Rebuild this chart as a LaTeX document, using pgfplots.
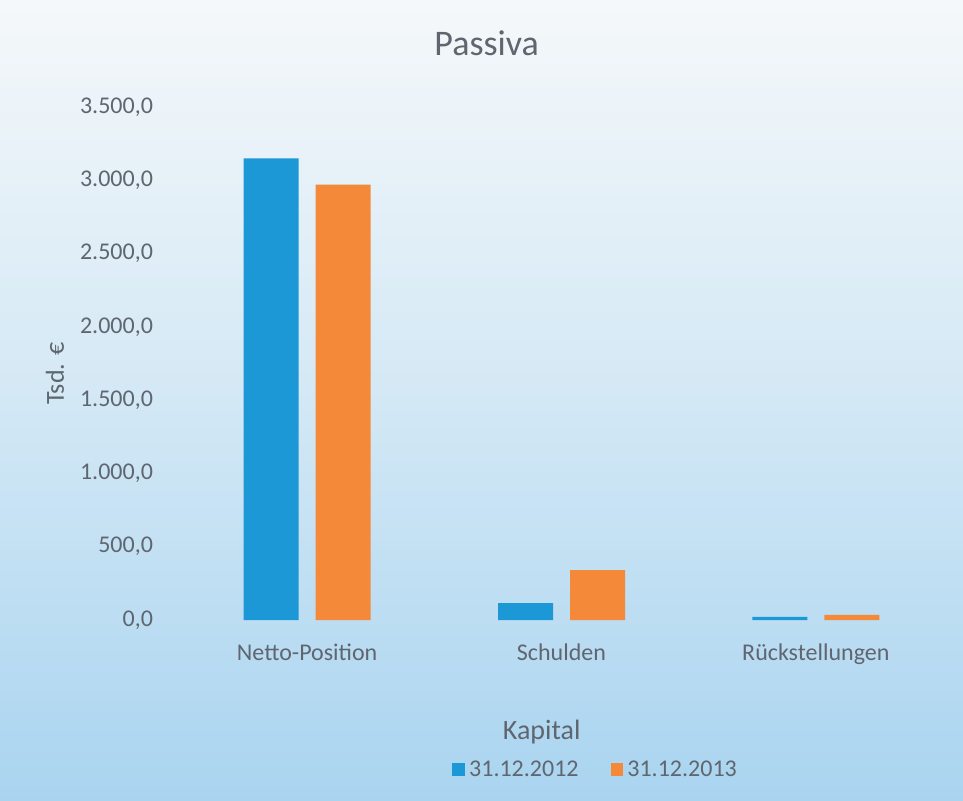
\documentclass[border=0pt]{standalone}
\usepackage{pgfplots}
\pgfplotsset{compat=1.18}
\usepackage{fontspec}
\setmainfont{Carlito}
\definecolor{barblue}{HTML}{1C98D6}
\definecolor{barorange}{HTML}{F5893A}
\definecolor{txt}{HTML}{5F6670}
\definecolor{bgtop}{HTML}{F5F8FA}
\definecolor{bgmid}{HTML}{D3E8F5}
\definecolor{bgbot}{HTML}{A9D4F0}
\begin{document}
\begin{tikzpicture}
\fill[top color=bgtop, bottom color=bgbot, middle color=bgmid] (0,0) rectangle (481.5pt,400pt);
\useasboundingbox (0,0) rectangle (481.5pt,400pt);
\begin{axis}[
  at={(90pt,90pt)}, anchor=south west,
  scale only axis, width=381.5pt, height=256.5pt,
  ybar=8.5pt, bar width=27.5pt,
  xmin=-0.5, xmax=2.5, ymin=0, ymax=3500,
  axis line style={draw=none}, tick style={draw=none},
  xtick={0,1,2}, xticklabels={Netto-Position,Schulden,Rückstellungen},
  ytick={0,500,...,3500},
  yticklabel={\pgfmathprintnumber[fixed,fixed zerofill,precision=1,use comma,1000 sep={.},assume math mode=true]{\tick}},
  tick label style={font=\fontsize{12}{14}\selectfont, text=txt},
  yticklabel style={xshift=-10pt},
  xticklabel style={yshift=-4pt},
  title={Passiva},
  title style={font=\fontsize{18}{21}\selectfont, text=txt, at={(axis description cs:0.402,1)}, anchor=center, yshift=26pt},
  ylabel={Tsd. €},
  ylabel style={font=\fontsize{13}{15}\selectfont, text=txt, at={(axis description cs:-0.164,0.48)}, anchor=center},
  xlabel={Kapital},
  xlabel style={font=\fontsize{14}{16}\selectfont, text=txt, at={(axis description cs:0.474,-0.218)}, anchor=center},
  legend style={at={(axis description cs:0.546,-0.292)}, anchor=center, draw=none, fill=none,
    legend columns=2, font=\fontsize{12}{14}\selectfont, text=txt,
    /tikz/every even column/.append style={column sep=14pt}},
  legend image code/.code={\fill[#1] (0pt,-3.2pt) rectangle (6.4pt,3.2pt);},
]
\addplot[fill=barblue, draw=none] coordinates {(0,3150) (1,115) (2,22)};
\addplot[fill=barorange, draw=none] coordinates {(0,2970) (1,340) (2,35)};
\legend{31.12.2012,31.12.2013}
\end{axis}
\end{tikzpicture}
\end{document}
